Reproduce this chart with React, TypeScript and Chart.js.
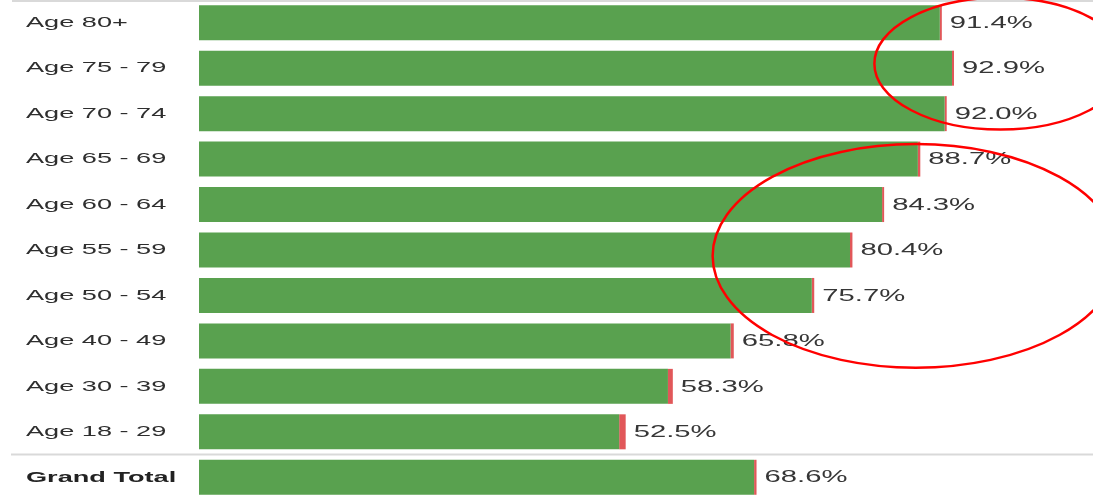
import React, { useEffect, useRef } from "react";
import { Chart, registerables } from "chart.js";

Chart.register(...registerables);

const categories = [
  "Age 80+",
  "Age 75 - 79",
  "Age 70 - 74",
  "Age 65 - 69",
  "Age 60 - 64",
  "Age 55 - 59",
  "Age 50 - 54",
  "Age 40 - 49",
  "Age 30 - 39",
  "Age 18 - 29",
  "Grand Total",
];
const mainValues = [91.15, 92.65, 91.75, 88.45, 84.05, 80.1, 75.4, 65.4, 57.7, 51.7, 68.3];
const redValues = [0.25, 0.25, 0.25, 0.3, 0.25, 0.3, 0.3, 0.4, 0.6, 0.8, 0.3];
const valueLabels = ["91.4%", "92.9%", "92.0%", "88.7%", "84.3%", "80.4%", "75.7%", "65.8%", "58.3%", "52.5%", "68.6%"];
const boldCategories = ["Grand Total"];
// annotation ellipses: centre (value, category index) and radii (value units, category units)
const ellipses = [
  { cx: 98.6, cy: 0.9, rx: 15.5, ry: 1.45 },
  { cx: 88.2, cy: 5.13, rx: 25.0, ry: 2.46 },
];
const xMax = 110;
const labelStretch = 1.75;
const valueStretch = 1.72;

const GREEN = "#59A14F";
const RED = "#E15759";

function drawStretched(ctx: CanvasRenderingContext2D, text: string, x: number, y: number, sx: number) {
  ctx.save();
  ctx.translate(x, y);
  ctx.scale(sx, 1);
  ctx.fillText(text, 0, 0);
  ctx.restore();
}

const overlayPlugin = {
  id: "overlay",
  beforeDatasetsDraw(chart: any) {
    const { ctx, scales, chartArea } = chart;
    const y = scales.y;
    ctx.save();
    ctx.strokeStyle = "#d9d9d9";
    ctx.lineWidth = 2;
    const yTop = chartArea.top + 1;
    ctx.beginPath();
    ctx.moveTo(12, yTop);
    ctx.lineTo(chart.width, yTop);
    ctx.stroke();
    const ySep = y.getPixelForValue(categories.length - 1.5);
    ctx.beginPath();
    ctx.moveTo(11, ySep);
    ctx.lineTo(chart.width, ySep);
    ctx.stroke();
    ctx.restore();
  },
  afterDatasetsDraw(chart: any) {
    const { ctx } = chart;
    const metaMain = chart.getDatasetMeta(0);
    const metaRed = chart.getDatasetMeta(1);
    ctx.save();
    ctx.textBaseline = "middle";
    ctx.textAlign = "left";
    categories.forEach((c, i) => {
      const bar = metaMain.data[i];
      const bold = boldCategories.includes(c);
      ctx.font = (bold ? "bold " : "") + "15.5px 'Liberation Sans', Arial, sans-serif";
      ctx.fillStyle = bold ? "#222" : "#2e2e2e";
      drawStretched(ctx, c, 26, bar.y, labelStretch);
    });
    ctx.font = "17px 'Liberation Sans', Arial, sans-serif";
    ctx.fillStyle = "#363636";
    valueLabels.forEach((t, i) => {
      const bar = metaRed.data[i];
      drawStretched(ctx, t, bar.x + 8, bar.y + 0.5, valueStretch);
    });
    ctx.restore();
  },
  afterDraw(chart: any) {
    const { ctx, scales } = chart;
    const x = scales.x;
    const y = scales.y;
    ctx.save();
    ctx.strokeStyle = "#ff0000";
    ctx.lineWidth = 2.5;
    ellipses.forEach((e) => {
      const px = x.getPixelForValue(e.cx);
      const py = y.getPixelForValue(e.cy);
      const rx = x.getPixelForValue(e.cx + e.rx) - px;
      const ry = y.getPixelForValue(e.cy + e.ry) - py;
      ctx.beginPath();
      ctx.ellipse(px, py, rx, ry, 0, 0, Math.PI * 2);
      ctx.stroke();
    });
    ctx.restore();
  },
};

export default function App() {
  const ref = useRef<HTMLCanvasElement | null>(null);
  useEffect(() => {
    if (!ref.current) return;
    const chart = new Chart(ref.current, {
      type: "bar",
      data: {
        labels: categories,
        datasets: [
          {
            label: "main",
            data: mainValues,
            backgroundColor: GREEN,
            borderWidth: 0,
            barPercentage: 0.77,
            categoryPercentage: 1,
          },
          {
            label: "other",
            data: redValues,
            backgroundColor: RED,
            borderWidth: 0,
            barPercentage: 0.77,
            categoryPercentage: 1,
          },
        ],
      },
      options: {
        indexAxis: "y",
        animation: false,
        responsive: false,
        maintainAspectRatio: false,
        layout: { padding: 0 },
        plugins: {
          legend: { display: false },
          tooltip: { enabled: false },
        },
        scales: {
          x: {
            stacked: true,
            min: 0,
            max: xMax,
            display: false,
          },
          y: {
            stacked: true,
            grid: { display: false },
            border: { display: false },
            ticks: { display: false },
            afterFit: (scale: any) => {
              scale.width = 199;
            },
          },
        },
      },
      plugins: [overlayPlugin],
    });
    return () => chart.destroy();
  }, []);
  return (
    <div style={{ position: "fixed", top: 0, left: 0, width: 1093, height: 500, background: "#fff" }}>
      <canvas ref={ref} width={1093} height={500} style={{ display: "block" }} />
    </div>
  );
}
